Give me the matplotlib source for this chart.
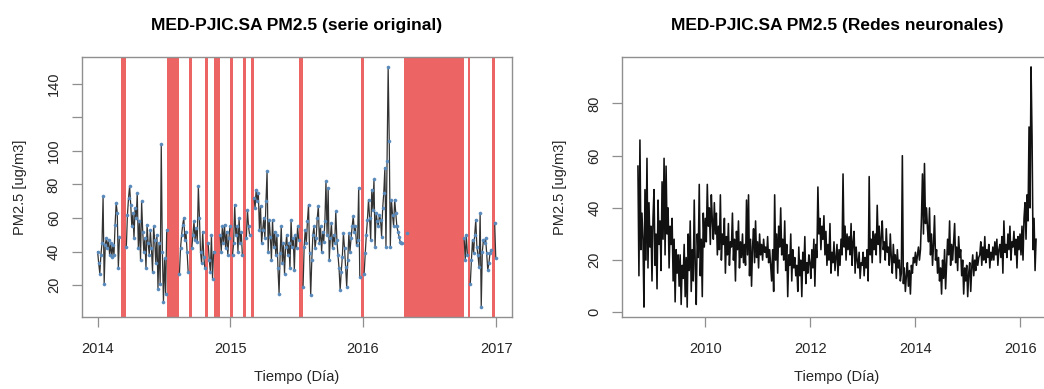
import pandas as pd
import matplotlib
matplotlib.use('Agg')
import matplotlib.pyplot as plt
import matplotlib.dates as mdates

plt.rcParams['font.family'] = ['Liberation Sans', 'DejaVu Sans']

# --- serie original, PM2.5 cada 3 dias, tramos entre huecos ---
seg_starts = ['2014-01-01', '2014-03-21', '2014-08-14', '2014-09-17', '2014-11-01',
              '2014-12-04', '2015-01-07', '2015-02-14', '2015-03-07', '2015-07-20',
              '2016-01-04', '2016-04-30', '2016-10-05', '2016-10-22', '2016-12-28']
seg1 = [40, 33, 27, 38, 45, 73, 21, 44, 48, 42, 47, 38, 45, 37, 44, 38, 56, 69, 63, 30, 49]
seg2 = [43, 62, 72, 79, 68, 55, 63, 48, 66, 60, 75, 42, 58, 35, 70, 52, 40, 48, 30, 56,
        45, 38, 53, 42, 28, 55, 47, 33, 50, 18, 45, 21, 104, 40, 10, 36, 15, 53]
seg3 = [27, 42, 50, 56, 60, 47, 52, 40, 28]
seg4 = [42, 50, 58, 47, 54, 46, 79, 60, 40, 33, 52, 37, 30]
seg5 = [45, 35, 28, 50, 24, 40]
seg6 = [50, 40, 55, 45, 56, 42, 52, 38, 48, 55]
seg7 = [38, 45, 68, 50, 55, 40, 60, 45, 52, 38]
seg8 = [48, 65, 55, 50]
seg9 = [72, 66, 77, 70, 75, 53, 67, 45, 53, 60, 48, 70, 88, 40, 59, 49, 35, 59, 43, 52,
        38, 50, 30, 15, 39, 55, 33, 45, 27, 43, 50, 38, 45, 30, 59, 43, 48, 29, 50, 42,
        55, 47]
seg10 = [19, 43, 53, 45, 58, 68, 39, 14, 35, 50, 55, 42, 48, 60, 67, 45, 55, 40, 52, 46,
         58, 82, 50, 78, 35, 48, 57, 42, 50, 45, 64, 47, 38, 30, 17, 28, 37, 51, 42, 31,
         19, 35, 51, 40, 48, 55, 61, 52, 55, 44, 47, 78, 25]
seg11 = [27, 39, 50, 59, 71, 60, 47, 77, 65, 83, 43, 63, 58, 55, 62, 59, 49, 66, 75, 90,
         43, 94, 150, 106, 43, 71, 62, 55, 71, 63, 55, 52, 49, 46, 45, 45]
seg12 = [51]
seg13 = [48, 35, 50, 38]
seg14 = [21, 35, 47, 39, 50, 59, 43, 38, 31, 63, 7, 40, 47, 45, 48, 39, 29, 33, 39, 41]
seg15 = [57, 36]
seg_values = [seg1, seg2, seg3, seg4, seg5, seg6, seg7, seg8, seg9, seg10,
              seg11, seg12, seg13, seg14, seg15]

# periodos sin dato
gap_starts = ['2014-03-05', '2014-07-12', '2014-09-09', '2014-10-24', '2014-11-18',
              '2015-01-01', '2015-02-06', '2015-02-26', '2015-07-10', '2015-12-27',
              '2016-04-22', '2016-05-02', '2016-10-15', '2016-12-21']
gap_ends = ['2014-03-20', '2014-08-13', '2014-09-16', '2014-10-31', '2014-12-03',
            '2015-01-06', '2015-02-13', '2015-03-06', '2015-07-19', '2016-01-03',
            '2016-04-29', '2016-10-04', '2016-10-21', '2016-12-27']

# --- redes neuronales, serie semanal desde 2008-09-18 ---
nn_start = '2008-09-18'
nn_2008 = [56, 14, 66, 24, 38, 28, 2, 47, 20, 59, 17, 42, 25, 33, 12]
nn_2009 = [36, 47, 18, 30, 9, 43, 26, 35, 16, 50, 28, 59, 22,
           56, 30, 40, 17, 33, 26, 36, 12, 28, 4, 24, 15, 22,
           10, 22, 3, 18, 13, 26, 6, 21, 2, 30, 16, 35, 8,
           24, 12, 43, 18, 3, 30, 21, 49, 14, 28, 6, 38, 25]
nn_2010 = [36, 27, 49, 33, 40, 26, 45, 35, 28, 42, 30, 38, 22,
           33, 24, 45, 20, 30, 26, 36, 15, 29, 22, 34, 18, 27,
           25, 38, 20, 28, 12, 31, 24, 35, 17, 27, 21, 30, 19,
           26, 18, 43, 22, 45, 14, 28, 10, 25, 32, 19, 35, 21]
nn_2011 = [27, 17, 30, 22, 26, 20, 28, 23, 25, 21, 29, 19, 24,
           18, 12, 24, 8, 45, 20, 30, 15, 33, 25, 40, 22, 28,
           20, 35, 16, 26, 6, 22, 18, 30, 12, 24, 17, 21, 14,
           18, 8, 25, 14, 20, 6, 23, 16, 29, 11, 19, 15, 22]
nn_2012 = [19, 13, 24, 17, 28, 10, 26, 21, 48, 30, 36, 24, 33,
           28, 37, 22, 31, 18, 26, 20, 34, 15, 23, 19, 27, 16,
           21, 26, 14, 24, 18, 28, 22, 53, 25, 33, 20, 30, 24,
           29, 22, 34, 18, 27, 31, 15, 25, 20, 17, 23, 13, 19]
nn_2013 = [18, 23, 14, 21, 17, 24, 12, 52, 22, 28, 19, 31, 24,
           30, 22, 41, 26, 33, 19, 29, 35, 24, 27, 20, 32, 23,
           25, 18, 30, 21, 15, 26, 19, 22, 13, 24, 17, 20, 12,
           15, 60, 11, 17, 8, 14, 19, 10, 16, 7, 18, 15, 21]
nn_2014 = [19, 23, 18, 22, 25, 20, 24, 36, 53, 30, 57, 34, 40,
           32, 27, 40, 22, 30, 18, 26, 37, 20, 24, 15, 21, 12,
           17, 7, 20, 13, 24, 9, 19, 28, 22, 35, 18, 26, 20,
           27, 34, 19, 25, 16, 29, 21, 24, 14, 20, 7, 17, 12]
nn_2015 = [18, 6, 15, 19, 8, 17, 22, 14, 20, 16, 23, 18, 21,
           22, 27, 18, 25, 20, 29, 19, 24, 21, 26, 17, 23, 20,
           25, 20, 27, 22, 28, 18, 24, 26, 21, 29, 15, 35, 23,
           26, 21, 30, 24, 33, 20, 27, 25, 31, 22, 28, 17, 29]
nn_2016 = [24, 30, 22, 33, 20, 36, 42, 28, 45, 35, 71, 40, 94, 67, 24, 36, 16, 28]
nn_values = nn_2008 + nn_2009 + nn_2010 + nn_2011 + nn_2012 + nn_2013 + nn_2014 + nn_2015 + nn_2016

title_left = 'MED-PJIC.SA PM2.5 (serie original)'
title_right = 'MED-PJIC.SA PM2.5 (Redes neuronales)'
xlab = 'Tiempo (Día)'
ylab = 'PM2.5 [ug/m3]'

frame_col = '#8f8f8f'
text_col = '#262626'
gap_col = '#EC6464'


def r_limits(lo, hi):
    pad = 0.04 * (hi - lo)
    return lo - pad, hi + pad


def style_axes(ax):
    for sp in ax.spines.values():
        sp.set_color(frame_col)
        sp.set_linewidth(1.0)
    ax.tick_params(axis='both', direction='out', length=7, width=0.9, color=frame_col,
                   labelcolor=text_col, labelsize=10.5)
    ax.tick_params(axis='x', pad=11)
    ax.tick_params(axis='y', pad=8)
    for lab in ax.get_yticklabels():
        lab.set_rotation(90)
        lab.set_va('center')
    ax.set_xlabel(xlab, fontsize=10.5, color=text_col)
    ax.set_ylabel(ylab, fontsize=10.5, color=text_col)
    ax.xaxis.set_label_coords(0.5, -0.205)
    ax.yaxis.set_label_coords(-0.128, 0.5)


fig = plt.figure(figsize=(10.44, 3.89), dpi=100)
bottom = 1 - 316.7 / 389
height = 259.4 / 389
ax1 = fig.add_axes([81.7 / 1044, bottom, 430 / 1044, height])
ax2 = fig.add_axes([622 / 1044, bottom, 430 / 1044, height])

# left: original series with missing periods shaded
for s, e in zip(gap_starts, gap_ends):
    ax1.axvspan(pd.Timestamp(s), pd.Timestamp(e) + pd.Timedelta(days=1),
                color=gap_col, lw=0, zorder=1)
all_vals = []
for s, vals in zip(seg_starts, seg_values):
    d = pd.date_range(s, periods=len(vals), freq='3D')
    ax1.plot(d, vals, color='#333333', lw=0.9, marker='o', ms=2.2,
             mfc='#5a8bbd', mec='#5a8bbd', mew=0.4, zorder=2)
    all_vals += vals

x0 = mdates.date2num(pd.Timestamp('2014-01-01'))
x1 = mdates.date2num(pd.Timestamp('2016-12-31'))
ax1.set_xlim(*r_limits(x0, x1))
ax1.set_ylim(*r_limits(min(all_vals), max(all_vals)))
ax1.xaxis.set_major_locator(mdates.YearLocator(1))
ax1.xaxis.set_major_formatter(mdates.DateFormatter('%Y'))
ax1.set_yticks([20, 40, 60, 80, 100, 120, 140])
ax1.set_yticklabels(['20', '40', '60', '80', '100', '', '140'])
style_axes(ax1)
ax1.set_title(title_left, fontsize=12.5, fontweight='bold', pad=20)

# right: neural network series
nn_dates = pd.date_range(nn_start, periods=len(nn_values), freq='7D')
ax2.plot(nn_dates, nn_values, color='#111111', lw=1.15)
ax2.set_xlim(*r_limits(mdates.date2num(nn_dates[0]), mdates.date2num(nn_dates[-1])))
ax2.set_ylim(*r_limits(min(nn_values), max(nn_values)))
ax2.xaxis.set_major_locator(mdates.YearLocator(2))
ax2.xaxis.set_major_formatter(mdates.DateFormatter('%Y'))
ax2.set_yticks([0, 20, 40, 60, 80])
style_axes(ax2)
ax2.set_title(title_right, fontsize=12.5, fontweight='bold', pad=20)

fig.savefig('out.png', dpi=100)
